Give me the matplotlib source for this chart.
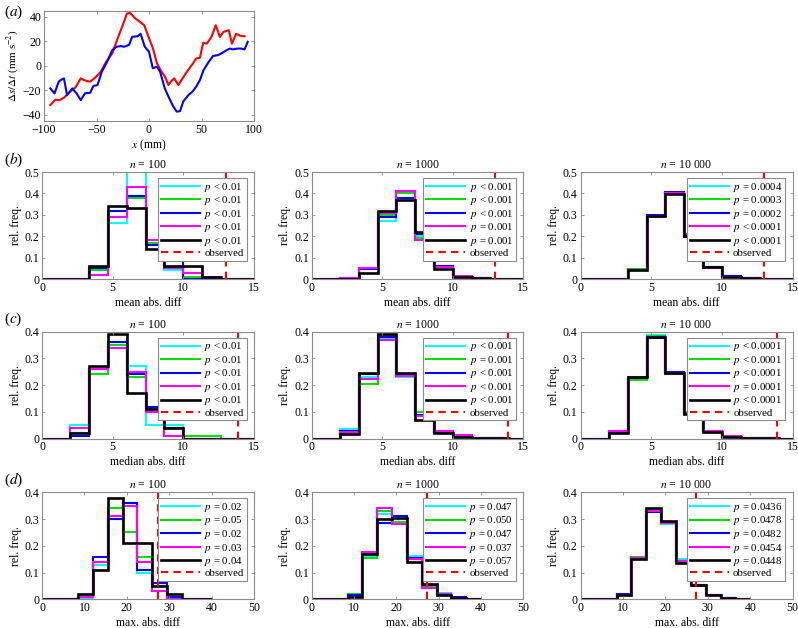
#!/usr/bin/env python3
# Panel (a): velocity-difference profiles; panels (b)-(d): null
# distributions of mean / median / max abs. differences for three
# permutation counts, with the observed value marked.

import matplotlib
matplotlib.use("Agg")
import matplotlib.pyplot as plt
from matplotlib.ticker import FormatStrFormatter

plt.rcParams["font.family"] = ["Liberation Serif", "DejaVu Serif"]
plt.rcParams["mathtext.fontset"] = "stix"

# ---- panel (a) -------------------------------------------------------
A_RED_X = [-94, -89, -85, -81, -75, -70, -65, -61, -56, -51, -46, -41, -35,
           -30, -25, -21, -18, -13, -9, -4.5, -0.5, 3.8, 7.6, 11, 15.3, 18.5,
           20.7, 24, 28, 31, 36, 42, 45, 48.5, 51.6, 55, 59.5, 63.6, 67.5,
           71, 76, 79, 83, 87, 91]
A_RED_Y = [-32, -27.6, -28, -26, -21, -17.6, -10.3, -12, -13, -9.5, -5, 3,
           10, 22, 33, 42.5, 43, 38.5, 36, 33, 23.6, 14, 2, -3.5, -9, -15.7,
           -13, -10.3, -15.7, -11.6, -5, 2, 6, 6.5, 18.7, 18, 23.5, 33, 23.5,
           27.6, 29, 18, 26, 24.4, 24]
A_BLUE_X = [-94, -90, -86, -84, -81, -78, -73, -69, -65, -61, -56, -53, -49,
            -45, -40, -35, -31, -27, -23.5, -19, -16, -11, -8, -4, 0, 3.6,
            7.6, 10.6, 15, 18.5, 23, 26.4, 29.5, 32.7, 37.4, 41.5, 45, 48.5,
            52, 56, 61, 66, 70, 74, 77, 80, 84, 88, 91, 94]
A_BLUE_Y = [-18.4, -22.5, -13, -11.6, -10.3, -24, -18.4, -22.5, -28, -22.5,
            -22, -16.5, -15.7, -5, 3, 12.7, 15.5, 16, 15.5, 17, 23.6, 24, 26,
            15.5, 11.4, -2, -0.8, -5, -18.4, -25, -33, -37.4, -37, -29, -24,
            -21, -17, -11.6, -3.5, 2, 8, 8.7, 10.6, 12.7, 14, 13.3, 14, 14,
            13.3, 19.5]

# ---- histogram bins --------------------------------------------------
EDGES_MEAN = [0, 2, 10 / 3, 14 / 3, 6, 22 / 3, 26 / 3, 10, 34 / 3, 38 / 3, 14, 15]
EDGES_MAX = [0, 8.5, 12, 15.5, 19, 22.5, 26, 29.5, 33, 36.5, 40]

# rel. freq. per series (cyan, green, blue, magenta, black)
MEAN_100 = [
    [0, 0, 0.05, 0.26, 0.50, 0.16, 0.04, 0.00, 0.00, 0, 0],
    [0, 0, 0.04, 0.29, 0.38, 0.17, 0.05, 0.01, 0.00, 0, 0],
    [0, 0, 0.05, 0.32, 0.39, 0.16, 0.09, 0.00, 0.00, 0, 0],
    [0, 0, 0.02, 0.29, 0.43, 0.18, 0.05, 0.03, 0.01, 0, 0],
    [0, 0, 0.06, 0.34, 0.33, 0.14, 0.06, 0.06, 0.01, 0, 0],
]
MEAN_1000 = [
    [0, 0.003, 0.045, 0.27, 0.405, 0.20, 0.06, 0.010, 0.004, 0.002, 0],
    [0, 0.003, 0.045, 0.30, 0.400, 0.19, 0.055, 0.010, 0.004, 0.002, 0],
    [0, 0.003, 0.045, 0.29, 0.380, 0.21, 0.060, 0.010, 0.005, 0.002, 0],
    [0, 0.003, 0.050, 0.31, 0.410, 0.18, 0.055, 0.015, 0.005, 0.002, 0],
    [0, 0.002, 0.030, 0.32, 0.370, 0.22, 0.045, 0.010, 0.005, 0.001, 0],
]
MEAN_10000 = [
    [0, 0.002, 0.043, 0.295, 0.400, 0.200, 0.055, 0.012, 0.003, 0.001, 0],
    [0, 0.002, 0.045, 0.290, 0.400, 0.200, 0.055, 0.013, 0.003, 0.001, 0],
    [0, 0.002, 0.043, 0.300, 0.405, 0.195, 0.055, 0.012, 0.003, 0.001, 0],
    [0, 0.002, 0.042, 0.295, 0.400, 0.210, 0.050, 0.010, 0.003, 0.001, 0],
    [0, 0.002, 0.040, 0.295, 0.395, 0.200, 0.055, 0.010, 0.003, 0.001, 0],
]
MEDIAN_100 = [
    [0, 0.05, 0.26, 0.35, 0.27, 0.05, 0.05, 0.00, 0.00, 0, 0],
    [0, 0.02, 0.24, 0.35, 0.23, 0.11, 0.04, 0.01, 0.01, 0, 0],
    [0, 0.01, 0.26, 0.36, 0.24, 0.12, 0.04, 0.00, 0.00, 0, 0],
    [0, 0.04, 0.26, 0.34, 0.25, 0.10, 0.01, 0.00, 0.00, 0, 0],
    [0, 0.02, 0.27, 0.39, 0.17, 0.11, 0.04, 0.00, 0.00, 0, 0],
]
MEDIAN_1000 = [
    [0, 0.037, 0.230, 0.375, 0.230, 0.090, 0.025, 0.008, 0.003, 0.001, 0],
    [0, 0.020, 0.205, 0.385, 0.235, 0.100, 0.025, 0.008, 0.003, 0.001, 0],
    [0, 0.030, 0.240, 0.380, 0.240, 0.090, 0.025, 0.008, 0.003, 0.001, 0],
    [0, 0.025, 0.225, 0.370, 0.235, 0.085, 0.030, 0.012, 0.003, 0.001, 0],
    [0, 0.016, 0.245, 0.390, 0.245, 0.070, 0.020, 0.008, 0.003, 0.001, 0],
]
MEDIAN_10000 = [
    [0, 0.025, 0.225, 0.388, 0.245, 0.093, 0.027, 0.008, 0.003, 0.001, 0],
    [0, 0.025, 0.220, 0.385, 0.240, 0.098, 0.030, 0.008, 0.003, 0.001, 0],
    [0, 0.025, 0.228, 0.375, 0.250, 0.093, 0.027, 0.008, 0.003, 0.001, 0],
    [0, 0.028, 0.230, 0.380, 0.245, 0.093, 0.027, 0.010, 0.003, 0.001, 0],
    [0, 0.022, 0.230, 0.380, 0.245, 0.093, 0.025, 0.008, 0.003, 0.001, 0],
]
MAX_100 = [
    [0, 0.005, 0.13, 0.31, 0.36, 0.10, 0.05, 0.01, 0.00, 0],
    [0, 0.010, 0.14, 0.34, 0.25, 0.16, 0.05, 0.00, 0.00, 0],
    [0, 0.010, 0.16, 0.30, 0.36, 0.11, 0.06, 0.01, 0.00, 0],
    [0, 0.010, 0.14, 0.31, 0.35, 0.14, 0.03, 0.00, 0.00, 0],
    [0, 0.020, 0.11, 0.38, 0.21, 0.21, 0.05, 0.02, 0.00, 0],
]
MAX_1000 = [
    [0, 0.015, 0.160, 0.320, 0.280, 0.163, 0.050, 0.022, 0.005, 0.002],
    [0, 0.020, 0.155, 0.330, 0.290, 0.150, 0.050, 0.018, 0.005, 0.002],
    [0, 0.015, 0.170, 0.285, 0.310, 0.153, 0.055, 0.018, 0.008, 0.002],
    [0, 0.010, 0.175, 0.340, 0.280, 0.150, 0.043, 0.018, 0.005, 0.002],
    [0, 0.010, 0.170, 0.300, 0.305, 0.140, 0.058, 0.017, 0.005, 0.002],
]
MAX_10000 = [
    [0, 0.016, 0.155, 0.330, 0.280, 0.150, 0.050, 0.015, 0.005, 0.002],
    [0, 0.016, 0.158, 0.335, 0.285, 0.140, 0.052, 0.017, 0.005, 0.002],
    [0, 0.018, 0.155, 0.325, 0.290, 0.145, 0.053, 0.015, 0.005, 0.002],
    [0, 0.016, 0.155, 0.330, 0.285, 0.145, 0.050, 0.015, 0.005, 0.002],
    [0, 0.015, 0.152, 0.340, 0.292, 0.137, 0.055, 0.015, 0.005, 0.002],
]

P_MEAN_100 = ["< 0.01"] * 5
P_MEAN_1000 = ["< 0.001", "< 0.001", "< 0.001", "= 0.001", "= 0.001"]
P_MEAN_10000 = ["= 0.0004", "= 0.0003", "= 0.0002", "< 0.0001", "< 0.0001"]
P_MEDIAN_100 = ["< 0.01"] * 5
P_MEDIAN_1000 = ["< 0.001", "= 0.001", "< 0.001", "< 0.001", "< 0.001"]
P_MEDIAN_10000 = ["< 0.0001", "< 0.0001", "< 0.0001", "= 0.0001", "< 0.0001"]
P_MAX_100 = ["= 0.02", "= 0.05", "= 0.02", "= 0.03", "= 0.04"]
P_MAX_1000 = ["= 0.047", "= 0.050", "= 0.047", "= 0.037", "= 0.057"]
P_MAX_10000 = ["= 0.0436", "= 0.0478", "= 0.0482", "= 0.0454", "= 0.0448"]

OBSERVED = [13.0, 13.9, 27.3]
N_TITLES = ["$n$ = 100", "$n$ = 1000", "$n$ = 10 000"]

SERIES_COLORS = ["#00ffff", "#00e000", "#0000ff", "#ff00ff", "#000000"]
SPINE = "#8c8c8c"

FIG_W, FIG_H = 798, 628


def axes_px(fig, left, top, right, bottom):
    return fig.add_axes([left / FIG_W, 1 - bottom / FIG_H,
                         (right - left) / FIG_W, (bottom - top) / FIG_H])


def style_axes(ax):
    for s in ax.spines.values():
        s.set_color(SPINE)
        s.set_linewidth(0.8)
    ax.tick_params(direction="in", length=2.5, width=0.6, color=SPINE,
                   labelsize=8.5, top=True, right=True, pad=2)


fig = plt.figure(figsize=(FIG_W / 100, FIG_H / 100), dpi=100)

# panel (a)
ax = axes_px(fig, 44, 10.5, 254, 121)
ax.plot(A_RED_X, A_RED_Y, color="red", lw=1.5)
ax.plot(A_BLUE_X, A_BLUE_Y, color="blue", lw=1.5)
ax.set_xlim(-100, 100)
ax.set_ylim(-45, 45)
ax.set_xticks([-100, -50, 0, 50, 100])
ax.set_yticks([-40, -20, 0, 20, 40])
style_axes(ax)
ax.set_xlabel("$x$ (mm)", fontsize=8.5, labelpad=1)
ax.set_ylabel(r"$\Delta s/\Delta t$ (mm s$^{-2}$)", fontsize=8, labelpad=1)
fig.text(4 / FIG_W, 1 - 12 / FIG_H, "($a$)", fontsize=11, va="center")

rows = [
    ("mean abs. diff", EDGES_MEAN, [MEAN_100, MEAN_1000, MEAN_10000],
     [P_MEAN_100, P_MEAN_1000, P_MEAN_10000], 15, 0.5, "($b$)"),
    ("median abs. diff", EDGES_MEAN, [MEDIAN_100, MEDIAN_1000, MEDIAN_10000],
     [P_MEDIAN_100, P_MEDIAN_1000, P_MEDIAN_10000], 15, 0.4, "($c$)"),
    ("max. abs. diff", EDGES_MAX, [MAX_100, MAX_1000, MAX_10000],
     [P_MAX_100, P_MAX_1000, P_MAX_10000], 50, 0.4, "($d$)"),
]
row_tops = [172, 331.7, 492.3]
col_lr = [(42, 254), (311.7, 523.3), (580.5, 792.7)]

for r, (xlabel, edges, panels, plabels, xmax, ymax, tag) in enumerate(rows):
    top = row_tops[r]
    bottom = top + 107
    for c, (left, right) in enumerate(col_lr):
        ax = axes_px(fig, left, top, right, bottom)
        for k, vals in enumerate(panels[c]):
            lw = 1.9 if k == 4 else 1.5
            ax.stairs(vals, edges, color=SERIES_COLORS[k], lw=lw,
                      label="$p$ " + plabels[c][k])
        ax.plot([OBSERVED[r]] * 2, [0, ymax], color="red", lw=1.5,
                ls=(0, (3.5, 2.5)), label="observed")
        ax.set_xlim(0, xmax)
        ax.set_ylim(0, ymax)
        ax.set_yticks([i / 10 for i in range(int(round(ymax * 10)) + 1)])
        ax.yaxis.set_major_formatter(FormatStrFormatter("%g"))
        style_axes(ax)
        ax.set_xlabel(xlabel, fontsize=8.5, labelpad=2)
        ax.set_ylabel("rel. freq.", fontsize=8.5, labelpad=2)
        ax.set_title(N_TITLES[c], fontsize=8.5, pad=3)
        leg = ax.legend(loc="upper right", bbox_to_anchor=(0.965, 0.945),
                        borderaxespad=0, fontsize=7.8, handlelength=3.6,
                        handletextpad=0.4, labelspacing=0.05,
                        borderpad=0.25, fancybox=False, framealpha=1)
        leg.get_frame().set_edgecolor(SPINE)
        leg.get_frame().set_linewidth(0.8)
    fig.text(4 / FIG_W, 1 - (top - 12) / FIG_H, tag, fontsize=11,
             va="center")

fig.savefig("out.png", dpi=100)
